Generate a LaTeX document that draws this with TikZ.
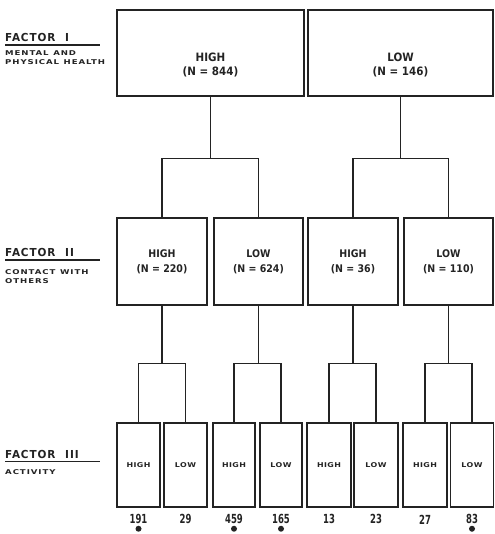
\documentclass[tikz,border=0pt]{standalone}
\usepackage{fontspec}
\setmainfont{DejaVu Sans}
\newfontfamily\lblfont[FakeStretch=1.3,LetterSpace=14]{DejaVu Sans Bold}
\newfontfamily\cellfont[FakeStretch=1.2,LetterSpace=6]{DejaVu Sans Bold}
\newfontfamily\boxfont[FakeStretch=0.9]{DejaVu Sans Bold}
\newfontfamily\headfont[FakeStretch=0.95,LetterSpace=8]{DejaVu Sans Bold}
\newfontfamily\numfont[FakeStretch=0.68]{DejaVu Sans Bold}
\usetikzlibrary{positioning}
\definecolor{ink}{RGB}{35,35,35}
\tikzset{
  % Factor I box (text set apart)
  BB/.style={rectangle,draw=ink,line width=1.4pt,minimum width=#1,
             minimum height=86pt,inner sep=0pt},
  BB/.default=187pt,
  % text of a Factor I box
  BT/.style={align=center,font=\boxfont\fontsize{11.5}{14.5}\selectfont,
             text=ink,inner sep=0pt},
  % Factor II box
  MB/.style={rectangle,draw=ink,line width=1.4pt,minimum width=#1,
             minimum height=87pt,inner sep=0pt,align=center,
             font=\boxfont\fontsize{10.5}{15}\selectfont,text=ink},
  MB/.default=90pt,
  % Factor III box
  SB/.style={rectangle,draw=ink,line width=1.4pt,minimum width=#1,
             minimum height=84pt,inner sep=0pt,align=center,
             font=\cellfont\fontsize{6.6}{8}\selectfont,text=ink},
  SB/.default=43pt,
  % counts under Factor III
  NM/.style={font=\numfont\fontsize{12.5}{12}\selectfont,text=ink,inner sep=0pt},
  DT/.style={circle,fill=ink,inner sep=0pt,minimum size=6pt},
  % factor headings on the left
  FH/.style={anchor=base west,inner sep=0pt,text=ink,
             font=\headfont\fontsize{11}{12}\selectfont},
  FS/.style={anchor=base west,inner sep=0pt,text=ink,
             font=\lblfont\fontsize{6.6}{9}\selectfont},
  ULine/.style={line width=1.5pt,color=ink},
  % tree lines
  Wire/.style={line width=1.3pt,color=ink},
}
\begin{document}
\begin{tikzpicture}[x=1pt,y=-1pt]
  \useasboundingbox (0,0) rectangle (494,534);
  % headings
  \node[FH] at (5,41.5) (f1) {FACTOR\hspace{0.9em}I};
  \draw[ULine] (5,45) -- (100,45);
  \node[FS] at (5,56) (f1a) {MENTAL\hspace{0.7em}AND};
  \node[FS] at (5,65) (f1b) {PHYSICAL\hspace{0.7em}HEALTH};
  \node[FH] at (5,256.5) (f2) {FACTOR\hspace{0.9em}II};
  \draw[ULine] (5,260) -- (100,260);
  \node[FS] at (5,274) (f2a) {CONTACT\hspace{0.7em}WITH};
  \node[FS] at (5,283.5) (f2b) {OTHERS};
  \node[FH] at (5,458) (f3) {FACTOR\hspace{0.9em}III};
  \draw[ULine] (5,461.5) -- (100,461.5);
  \node[FS] at (5,474) (f3a) {ACTIVITY};
  % Factor I
  \node[BB=187pt] at (210.5,53) (h) {};
  \node[BT] at ([yshift=-12pt]h.center) (ht) {HIGH\\(N = 844)};
  \node[BB=185pt] at (400.5,53) (l) {};
  \node[BT] at ([yshift=-12pt]l.center) (lt) {LOW\\(N = 146)};
  % Factor II
  \node[MB] at (162,261.5) (hh) {HIGH\\(N = 220)};
  \node[MB=89pt] at (258.5,261.5) (hl) {LOW\\(N = 624)};
  \node[MB] at (353,261.5) (lh) {HIGH\\(N = 36)};
  \node[MB=89pt] at (448.5,261.5) (ll) {LOW\\(N = 110)};
  \draw[Wire] (h.south) -- ++(0,62) coordinate (j1);
  \draw[Wire] (hh.north) |- (j1) -| (hl.north);
  \draw[Wire] (l.south) -- ++(0,62) coordinate (j2);
  \draw[Wire] (lh.north) |- (j2) -| (ll.north);
  % Factor III
  \node[SB] at (138.5,465) (hhh) {HIGH};
  \node[SB] at (185.5,465) (hhl) {LOW};
  \node[SB=42pt] at (234,465) (hlh) {HIGH};
  \node[SB=42pt] at (281,465) (hll) {LOW};
  \node[SB=44pt] at (329,465) (lhh) {HIGH};
  \node[SB=44pt] at (376,465) (lhl) {LOW};
  \node[SB=44pt] at (425,465) (llh) {HIGH};
  \node[SB] at (472,465) (lll) {LOW};
  \draw[Wire] (hh.south) -- ++(0,58) coordinate (j3);
  \draw[Wire] (hhh.north) |- (j3) -| (hhl.north);
  \draw[Wire] (hl.south) -- ++(0,58) coordinate (j4);
  \draw[Wire] (hlh.north) |- (j4) -| (hll.north);
  \draw[Wire] (lh.south) -- ++(0,58) coordinate (j5);
  \draw[Wire] (lhh.north) |- (j5) -| (lhl.north);
  \draw[Wire] (ll.south) -- ++(0,58) coordinate (j6);
  \draw[Wire] (llh.north) |- (j6) -| (lll.north);
  % counts
  \node[NM,below=6pt of hhh] (n1) {191};
  \node[NM,below=6pt of hhl] (n2) {29};
  \node[NM,below=6pt of hlh] (n3) {459};
  \node[NM,below=6pt of hll] (n4) {165};
  \node[NM,below=6pt of lhh] (n5) {13};
  \node[NM,below=6pt of lhl] (n6) {23};
  \node[NM,below=7pt of llh] (n7) {27};
  \node[NM,below=6pt of lll] (n8) {83};
  \node[DT,below=2pt of n1] (d1) {};
  \node[DT,below=2pt of n3] (d3) {};
  \node[DT,below=2pt of n4] (d4) {};
  \node[DT,below=2pt of n8] (d8) {};
\end{tikzpicture}
\end{document}
